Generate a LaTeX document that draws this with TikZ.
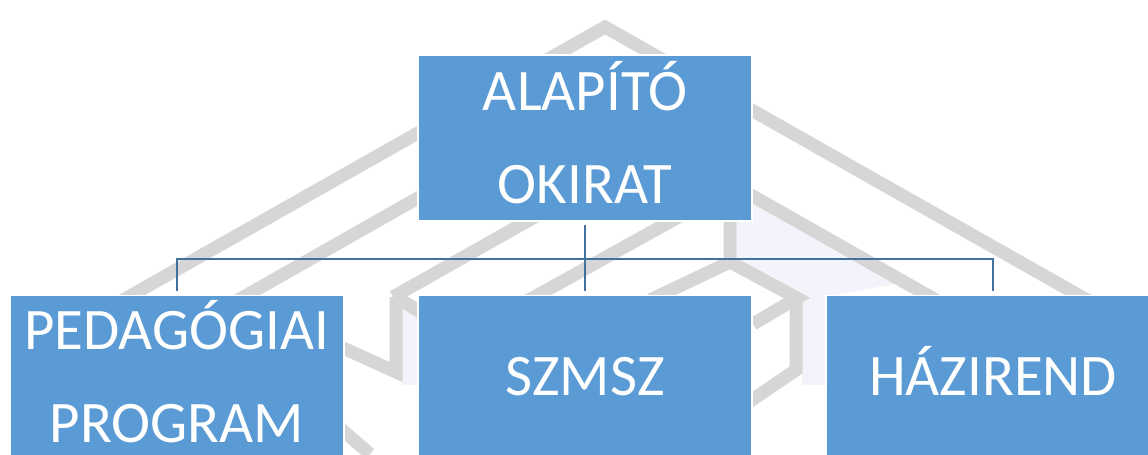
\documentclass[tikz,border=0pt]{standalone}
\usepackage{fontspec}
\setmainfont{Carlito}
\usetikzlibrary{positioning}
\definecolor{boxblue}{RGB}{91,155,213}
\definecolor{linkblue}{RGB}{65,113,156}
\definecolor{wmgray}{RGB}{214,214,214}
\definecolor{wmlilac}{RGB}{243,243,251}
\tikzset{
  docbox/.style={rectangle, fill=boxblue, draw=white, line width=1pt,
    minimum width=6.68cm, minimum height=3.26cm, inner sep=0pt,
    text height=21.6pt, text depth=0pt,
    text=white, align=center, font=\fontsize{33.5}{53}\selectfont},
  twoline/.style={text height=74.6pt},
  link/.style={draw=linkblue, line width=1.3pt, shorten <=2pt, shorten >=2pt},
  wm/.style={draw=wmgray, line width=0.26cm}
}

\begin{document}
\begin{tikzpicture}[x=0.02cm,y=-0.02cm]
	\useasboundingbox (0,0) rectangle (1148,454);
	\clip (0,0) rectangle (1148,454);
	% faint logo behind the chart
	\fill[wmlilac] (737,198) -- (758,198) -- (905,282) -- (830,296) -- (830,385) -- (802,385) -- (802,300) -- (737,265) -- cycle;
	\fill[wmlilac] (402,305) rectangle (418,385);
	\draw[wm] (40,347) -- (605,27) -- (1170,347);
	\draw[wm] (180,333) -- (587,102) -- (994,333);
	\draw[wm] (393,297) -- (600,180);
	\draw[wm] (396,297) -- (396,372) -- (330,342);
	\draw[wm] (396,297) -- (430,318);
	\draw[wm] (520,305) -- (700,205);
	\draw[wm] (730,205) -- (730,262) -- (797,298) -- (753,324);
	\draw[wm] (650,300) -- (730,262);
	\draw[wm] (796,298) -- (796,370) -- (740,408);
	\draw[wm] (340,428) -- (370,454);
	% chart
	\node[docbox, twoline, minimum height=3.32cm] (top) at (585,138) {ALAPÍTÓ\\OKIRAT};
	\node[docbox, twoline] (ped) at (177,377) {PEDAGÓGIAI\\PROGRAM};
	\node[docbox] (szm) at (585,377) {SZMSZ};
	\node[docbox] (haz) at (993,377) {HÁZIREND};
	\coordinate (bus) at (585,259);
	\draw[link] (top.south) -- (szm.north);
	\draw[link] (ped.north) |- (bus) -| (haz.north);
\end{tikzpicture}
\end{document}
